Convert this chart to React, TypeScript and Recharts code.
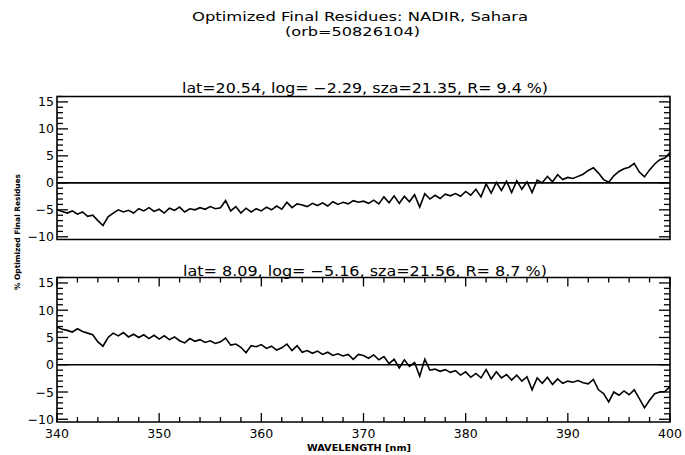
import React from 'react';
import { LineChart, Line, XAxis, YAxis, ReferenceLine, ReferenceArea } from 'recharts';

// wavelength grid [nm]
const wavelengths = [
  340, 340.5, 341, 341.5, 342, 342.5, 343, 343.5, 344, 344.5, 345, 345.5, 346, 346.5, 347, 347.5,
  348, 348.5, 349, 349.5, 350, 350.5, 351, 351.5, 352, 352.5, 353, 353.5, 354, 354.5, 355, 355.5,
  356, 356.5, 357, 357.5, 358, 358.5, 359, 359.5, 360, 360.5, 361, 361.5, 362, 362.5, 363, 363.5,
  364, 364.5, 365, 365.5, 366, 366.5, 367, 367.5, 368, 368.5, 369, 369.5, 370, 370.5, 371, 371.5,
  372, 372.5, 373, 373.5, 374, 374.5, 375, 375.5, 376, 376.5, 377, 377.5, 378, 378.5, 379, 379.5,
  380, 380.5, 381, 381.5, 382, 382.5, 383, 383.5, 384, 384.5, 385, 385.5, 386, 386.5, 387, 387.5,
  388, 388.5, 389, 389.5, 390, 390.5, 391, 391.5, 392, 392.5, 393, 393.5, 394, 394.5, 395, 395.5,
  396, 396.5, 397, 397.5, 398, 398.5, 399, 399.5, 400,
];

// lat=20.54 residues [%]
const topResidues = [
  -5.0, -5.3, -5.6, -5.2, -5.8, -5.4, -6.2, -6.0, -7.0, -7.9, -6.3, -5.6, -5.0, -5.4, -5.1, -5.6,
  -4.8, -5.2, -4.6, -5.3, -4.9, -5.6, -4.7, -5.1, -4.5, -5.4, -4.8, -5.0, -4.6, -4.9, -4.4, -4.8,
  -4.6, -3.3, -5.2, -4.4, -5.6, -4.7, -5.4, -4.8, -5.2, -4.5, -5.0, -4.3, -4.9, -3.6, -4.6, -3.9,
  -4.1, -4.4, -3.8, -4.2, -3.7, -4.3, -3.5, -4.0, -3.6, -3.9, -3.3, -3.6, -3.4, -3.8, -3.2, -3.9,
  -2.6, -3.7, -2.4, -3.8, -2.5, -3.5, -2.2, -4.5, -2.0, -3.0, -2.3, -2.9, -2.1, -2.4, -2.0, -2.5,
  -1.6, -2.3, -1.2, -2.6, -0.2, -1.9, 0.1, -1.4, 0.3, -1.8, 0.4, -1.2, 0.2, -1.8, 0.5, 0.0,
  1.2, 0.2, 1.5, 0.6, 1.0, 0.8, 1.2, 1.6, 2.3, 2.8, 1.8, 0.6, 0.1, 1.3, 2.1, 2.6,
  2.9, 3.6, 2.0, 1.1, 2.4, 3.5, 4.3, 4.6, 5.6,
];

// lat=8.09 residues [%]
const bottomResidues = [
  6.9, 6.5, 6.3, 6.0, 6.6, 6.1, 5.8, 5.5, 4.2, 3.4, 5.0, 5.8, 5.3, 5.9, 5.1, 5.6,
  5.0, 5.5, 4.8, 5.4, 4.7, 5.3, 4.6, 5.1, 4.4, 4.0, 4.8, 4.3, 4.6, 4.1, 4.4, 3.9,
  4.2, 4.9, 3.6, 3.8, 3.2, 2.2, 3.5, 3.3, 3.7, 3.0, 3.4, 2.7, 3.1, 3.8, 2.6, 3.5,
  2.3, 2.6, 2.1, 2.5, 1.9, 2.3, 1.7, 2.0, 1.6, 1.9, 1.0, 1.9, 1.7, 1.2, 1.8, 0.9,
  1.5, 0.2, 1.0, -0.6, 0.9, -0.3, 0.4, -2.1, 1.0, -1.0, -0.8, -1.2, -0.9, -1.4, -1.1, -1.9,
  -1.3, -2.3, -1.6, -2.4, -0.9, -2.6, -1.3, -2.4, -1.8, -2.8, -1.9, -3.0, -2.2, -4.6, -2.4, -3.4,
  -2.3, -3.6, -2.6, -3.4, -3.0, -3.2, -2.9, -3.3, -3.5, -2.7, -4.6, -5.3, -6.8, -5.0, -5.6, -4.8,
  -5.5, -4.6, -6.2, -7.9, -6.5, -5.3, -5.0, -4.9, -4.0,
];

const xTicks = [
  340, 342, 344, 346, 348, 350, 352, 354, 356, 358, 360, 362, 364, 366, 368, 370,
  372, 374, 376, 378, 380, 382, 384, 386, 388, 390, 392, 394, 396, 398, 400,
];
const xMajorTicks = [340, 350, 360, 370, 380, 390, 400];
const yTicks = [
  -10, -9, -8, -7, -6, -5, -4, -3, -2, -1, 0, 1, 2, 3, 4, 5, 6, 7, 8, 9, 10, 11, 12, 13, 14, 15, 16,
];
const yMajorTicks = [-10, -5, 0, 5, 10, 15];

const panelTitles = [
  'lat=20.54, log= \u22122.29, sza=21.35, R= 9.4 %)',
  'lat= 8.09, log= \u22125.16, sza=21.56, R= 8.7 %)',
];

const FONT = "'DejaVu Sans', Verdana, sans-serif";
const PLOT_WIDTH = 613;

const XTick = (props: any) => {
  const { x, y, payload, plotHeight, showLabel } = props;
  const major = xMajorTicks.includes(payload.value);
  const len = major ? 9 : 5;
  return (
    <g>
      <line x1={x} y1={y} x2={x} y2={y - len} stroke="#000" strokeWidth={1.3} />
      <line x1={x} y1={y - plotHeight} x2={x} y2={y - plotHeight + len} stroke="#000" strokeWidth={1.3} />
      {showLabel && major && (
        <text x={x} y={y + 16} textAnchor="middle" fontFamily={FONT} fontSize={12.5} fill="#000">
          {payload.value}
        </text>
      )}
    </g>
  );
};

const YTick = (props: any) => {
  const { x, y, payload } = props;
  const major = yMajorTicks.includes(payload.value);
  const len = major ? 11 : 6;
  const label = payload.value < 0 ? '\u2212' + Math.abs(payload.value) : String(payload.value);
  return (
    <g>
      <line x1={x} y1={y} x2={x + len} y2={y} stroke="#000" strokeWidth={1.3} />
      <line x1={x + PLOT_WIDTH} y1={y} x2={x + PLOT_WIDTH - len} y2={y} stroke="#000" strokeWidth={1.3} />
      {major && (
        <text x={x - 3} y={y + 4.5} textAnchor="end" fontFamily={FONT} fontSize={12.5} fill="#000">
          {label}
        </text>
      )}
    </g>
  );
};

const Panel = ({ values, height, margin, axisHeight, plotHeight, showLabels }: any) => {
  const data = wavelengths.map((w, i) => ({ w, v: values[i] }));
  return (
    <LineChart width={685} height={height} data={data} margin={margin}>
      <XAxis
        dataKey="w"
        type="number"
        domain={[340, 400]}
        ticks={xTicks}
        interval={0}
        height={axisHeight}
        axisLine={false}
        tickLine={false}
        tickSize={0}
        tickMargin={0}
        tick={<XTick plotHeight={plotHeight} showLabel={showLabels} />}
      />
      <YAxis
        type="number"
        domain={[-10.5, 16]}
        ticks={yTicks}
        interval={0}
        width={57}
        axisLine={false}
        tickLine={false}
        tickSize={0}
        tickMargin={0}
        tick={<YTick />}
      />
      <ReferenceArea x1={340} x2={400} y1={-10.5} y2={16} fill="none" stroke="#000" strokeWidth={1.6} />
      <ReferenceLine y={0} stroke="#000" strokeWidth={1.6} />
      <Line
        dataKey="v"
        type="linear"
        stroke="#000"
        strokeWidth={1.6}
        dot={false}
        isAnimationActive={false}
      />
    </LineChart>
  );
};

export default function App() {
  return (
    <div style={{ position: 'absolute', left: 0, top: 0, width: 685, height: 455, background: '#fff' }}>
      <div style={{ position: 'absolute', left: 0, top: 0 }}>
        <Panel
          values={topResidues}
          height={250}
          margin={{ top: 96.5, right: 15, bottom: 10.5, left: 0 }}
          axisHeight={0}
          plotHeight={143}
          showLabels={false}
        />
      </div>
      <div style={{ position: 'absolute', left: 0, top: 250 }}>
        <Panel
          values={bottomResidues}
          height={205}
          margin={{ top: 27.5, right: 15, bottom: 13, left: 0 }}
          axisHeight={20}
          plotHeight={144.5}
          showLabels={true}
        />
      </div>
      <svg
        width={685}
        height={455}
        style={{ position: 'absolute', left: 0, top: 0, pointerEvents: 'none' }}
        fontFamily={FONT}
      >
        <text x={192} y={20.5} fontSize={12.5} textLength={336} lengthAdjust="spacingAndGlyphs">
          Optimized Final Residues: NADIR, Sahara
        </text>
        <text x={285} y={35.5} fontSize={12.5} textLength={135} lengthAdjust="spacingAndGlyphs">
          (orb=50826104)
        </text>
        <text x={182} y={93} fontSize={14} textLength={366} lengthAdjust="spacingAndGlyphs">
          {panelTitles[0]}
        </text>
        <text x={183} y={276} fontSize={14} textLength={364} lengthAdjust="spacingAndGlyphs">
          {panelTitles[1]}
        </text>
        <text x={307} y={451} fontSize={8} fontWeight="bold" textLength={104} lengthAdjust="spacingAndGlyphs">
          WAVELENGTH [nm]
        </text>
        <text
          transform="translate(20, 290) rotate(-90)"
          fontSize={7.5}
          fontWeight="bold"
          textLength={116}
          lengthAdjust="spacingAndGlyphs"
        >
          % Optimized Final Residues
        </text>
      </svg>
    </div>
  );
}
